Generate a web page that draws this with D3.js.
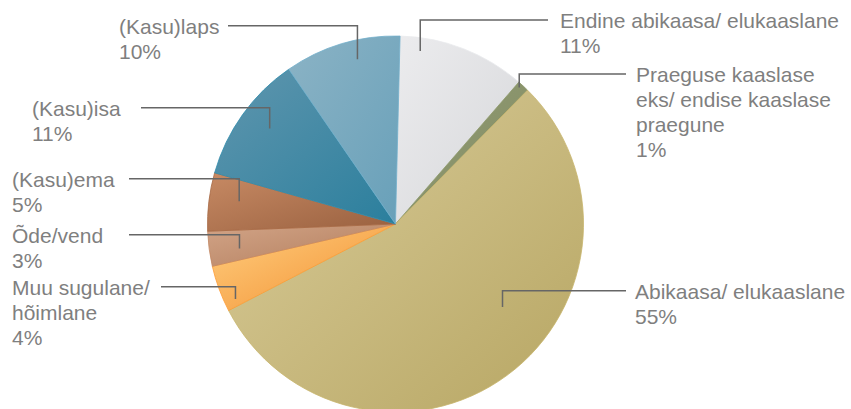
<!DOCTYPE html>
<html>
<head>
<meta charset="utf-8">
<script src="https://cdn.jsdelivr.net/npm/d3@7"></script>
<style>
  body { margin: 0; background: #fff; }
  text { font-family: "Liberation Sans", Arial, Helvetica, sans-serif; }
</style>
</head>
<body>
<script>
// slices, clockwise from the top
const categories = ["Endine abikaasa/ elukaaslane", "Praeguse kaaslase eks/ endise kaaslase praegune",
  "Abikaasa/ elukaaslane", "Muu sugulane/ hõimlane", "Õde/vend", "(Kasu)ema", "(Kasu)isa", "(Kasu)laps"];
const values = [11, 1, 55, 4, 3, 5, 11, 10];
const labelLines = [
  ["Endine abikaasa/ elukaaslane"],
  ["Praeguse kaaslase", "eks/ endise kaaslase", "praegune"],
  ["Abikaasa/ elukaaslane"],
  ["Muu sugulane/", "hõimlane"],
  ["Õde/vend"],
  ["(Kasu)ema"],
  ["(Kasu)isa"],
  ["(Kasu)laps"]
];
const lightColors = ["#ececee", "#939d76", "#dacd9b", "#ffcf80", "#d2a487", "#c78a64", "#6096ae", "#8bb3c5"];
const darkColors  = ["#d6d7da", "#818b62", "#b7a663", "#f28f30", "#b27d5c", "#99603f", "#2b7f9d", "#68a0b9"];

const width = 851, height = 409;
const cx = 395.5, cy = 224, radius = 188;
const offset = 1.4 * Math.PI / 180;

// label placement: text x, leader y, where the leader meets the text, tick position in the slice
const labelLayout = [
  { x: 560, ly: 20,    lx: 548, t: 0.17, r: 0.93, anchor: "start" },
  { x: 636, ly: 74,    lx: 626, t: 0.33, r: 0.98, anchor: "start" },
  { x: 635, ly: 290.7, lx: 626, t: 0.42, r: 0.72, anchor: "start" },
  { x: 12,  ly: 286.7, lx: 161, t: 0.16, r: 0.94, anchor: "start" },
  { x: 12,  ly: 234.7, lx: 129, t: 0.38, r: 0.84, anchor: "start" },
  { x: 12,  ly: 178.7, lx: 129, t: 0.58, r: 0.84, anchor: "start" },
  { x: 32,  ly: 107.7, lx: 141, t: 0.54, r: 0.84, anchor: "start" },
  { x: 119, ly: 25.7,  lx: 228, t: 0.6,  r: 0.9,  anchor: "start" }
];

const svg = d3.select("body").append("svg")
    .attr("width", width)
    .attr("height", height);

const defs = svg.append("defs");
categories.forEach((c, i) => {
  const g = defs.append("linearGradient")
      .attr("id", "grad" + i)
      .attr("x1", 0).attr("y1", 0)
      .attr("x2", 1).attr("y2", 1);
  g.append("stop").attr("offset", "0%").attr("stop-color", lightColors[i]);
  g.append("stop").attr("offset", "100%").attr("stop-color", darkColors[i]);
});

const pie = d3.pie()
    .value(d => d)
    .sort(null)
    .startAngle(offset)
    .endAngle(offset + 2 * Math.PI);

const arc = d3.arc()
    .innerRadius(0)
    .outerRadius(radius);

const arcs = pie(values);

const chart = svg.append("g")
    .attr("transform", `translate(${cx}, ${cy})`);

chart.selectAll("path.slice")
  .data(arcs)
  .enter().append("path")
    .attr("class", "slice")
    .attr("d", arc)
    .attr("fill", (d, i) => `url(#grad${i})`)
    .attr("stroke", (d, i) => d3.color(darkColors[i]).brighter(0.25))
    .attr("stroke-width", 0.8)
    .attr("stroke-linejoin", "round");

// leader lines
const tickPoint = (d, i) => {
  const L = labelLayout[i];
  const a = d.startAngle + L.t * (d.endAngle - d.startAngle);
  return [cx + Math.sin(a) * radius * L.r, cy - Math.cos(a) * radius * L.r];
};

svg.append("g")
  .selectAll("path")
  .data(arcs)
  .enter().append("path")
    .attr("d", (d, i) => {
      const [px, py] = tickPoint(d, i);
      const L = labelLayout[i];
      return `M${px},${py}V${L.ly}H${L.lx}`;
    })
    .attr("fill", "none")
    .attr("stroke", "#666")
    .attr("stroke-width", 1.5);

// labels
const labels = svg.append("g")
    .attr("font-size", 21)
    .attr("fill", "#7f7f7f")
  .selectAll("text")
  .data(arcs)
  .enter().append("text")
    .attr("x", (d, i) => labelLayout[i].x)
    .attr("y", (d, i) => labelLayout[i].ly + 8.2)
    .attr("text-anchor", (d, i) => labelLayout[i].anchor);

labels.each(function(d, i) {
  const lines = labelLines[i].concat([values[i] + "%"]);
  d3.select(this).selectAll("tspan")
    .data(lines)
    .enter().append("tspan")
      .attr("x", labelLayout[i].x)
      .attr("dy", (l, k) => k === 0 ? 0 : 25)
      .text(l => l);
});
</script>
</body>
</html>
